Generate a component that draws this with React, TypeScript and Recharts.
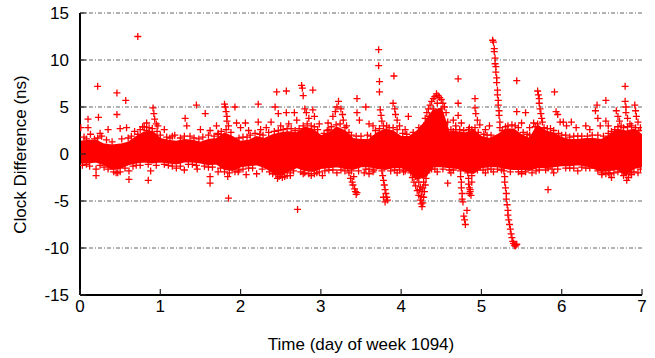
import React from 'react';
import { ComposedChart, Area, Scatter, XAxis, YAxis, CartesianGrid } from 'recharts';

// ---------------------------------------------------------------------------
// Data
// ---------------------------------------------------------------------------

const xTicks = [0, 1, 2, 3, 4, 5, 6, 7];
const yTicks = [-15, -10, -5, 0, 5, 10, 15];

// dense core of the scatter: sampled envelope every 0.1 day
const bandTimes = [
  0.0, 0.1, 0.2, 0.3, 0.4, 0.5, 0.6, 0.7, 0.8, 0.9,
  1.0, 1.1, 1.2, 1.3, 1.4, 1.5, 1.6, 1.7, 1.8, 1.9,
  2.0, 2.1, 2.2, 2.3, 2.4, 2.5, 2.6, 2.7, 2.8, 2.9,
  3.0, 3.1, 3.2, 3.3, 3.4, 3.5, 3.6, 3.7, 3.8, 3.9,
  4.0, 4.1, 4.2, 4.3, 4.4, 4.5, 4.6, 4.7, 4.8, 4.9,
  5.0, 5.1, 5.2, 5.3, 5.4, 5.5, 5.6, 5.7, 5.8, 5.9,
  6.0, 6.1, 6.2, 6.3, 6.4, 6.5, 6.6, 6.7, 6.8, 6.9, 7.0,
];
const bandHigh = [
  1.3, 1.4, 1.4, 1.0, 0.9, 1.0, 1.2, 1.8, 2.3, 2.4,
  1.6, 1.4, 1.3, 1.5, 1.4, 1.2, 1.5, 1.6, 2.2, 1.8,
  1.3, 1.4, 1.8, 1.6, 2.0, 2.2, 2.3, 2.2, 2.8, 2.6,
  1.9, 2.2, 2.8, 2.4, 1.6, 1.5, 1.5, 2.2, 2.6, 2.4,
  1.8, 1.8, 2.4, 3.4, 4.6, 4.8, 2.2, 2.3, 2.2, 2.5,
  1.8, 1.6, 2.0, 2.6, 2.6, 2.0, 1.6, 3.0, 2.4, 2.2,
  1.7, 1.5, 1.5, 1.6, 1.6, 1.5, 2.0, 2.6, 2.4, 2.6, 2.0,
];
const bandLow = [
  -0.9, -0.9, -0.8, -1.1, -1.6, -1.5, -1.1, -0.9, -0.8, -0.9,
  -0.8, -0.9, -1.0, -0.8, -0.8, -0.9, -1.1, -1.0, -1.6, -1.7,
  -1.3, -1.2, -1.1, -1.4, -1.9, -2.2, -1.8, -1.4, -1.7, -1.8,
  -1.5, -1.4, -1.3, -1.5, -1.6, -1.3, -1.3, -1.5, -1.6, -1.4,
  -1.4, -1.8, -2.6, -2.4, -1.3, -1.3, -1.4, -1.5, -1.8, -2.0,
  -1.4, -1.3, -1.3, -1.5, -1.6, -1.6, -1.7, -1.4, -1.4, -1.3,
  -1.2, -1.2, -1.1, -1.2, -1.5, -1.8, -1.7, -1.6, -2.2, -1.5, -1.3,
];

// ragged crosses along the edges of the core
const upperEdge: [number, number][] = [
  [0.05, 1.8], [0.13, 2.1], [0.18, 1.6], [0.27, 1.9], [0.33, 1.5], [0.4, 1.3], [0.52, 1.6],
  [0.64, 1.9], [0.68, 2.4], [0.75, 2.6], [0.8, 2.9], [0.86, 2.8], [0.9, 2.7], [1.0, 2.0],
  [1.08, 1.8], [1.15, 1.9], [1.25, 1.7], [1.37, 1.9], [1.42, 1.7], [1.53, 1.8], [1.6, 2.0],
  [1.67, 1.9], [1.76, 2.4], [1.88, 2.3], [2.03, 1.8], [2.12, 2.0], [2.18, 2.2], [2.28, 2.0],
  [2.35, 2.3], [2.42, 2.4], [2.53, 2.6], [2.63, 2.7], [2.73, 2.7], [2.83, 3.2], [2.88, 3.0],
  [2.96, 2.6], [3.04, 2.2], [3.13, 2.9], [3.24, 3.2], [3.3, 2.8], [3.38, 2.0], [3.5, 1.9],
  [3.58, 2.0], [3.68, 2.5], [3.78, 3.0], [3.85, 2.8], [3.95, 2.6], [4.02, 2.2], [4.15, 2.3],
  [4.22, 2.8], [4.62, 2.6], [4.68, 2.6], [4.78, 2.5], [4.88, 2.6], [4.96, 2.3], [5.03, 2.1],
  [5.12, 2.0], [5.26, 2.5], [5.33, 3.0], [5.38, 3.1], [5.46, 2.8], [5.52, 2.3], [5.6, 2.0],
  [5.67, 2.9], [5.78, 2.8], [5.86, 2.7], [5.96, 2.2], [6.05, 2.0], [6.15, 1.9], [6.25, 1.9],
  [6.38, 2.0], [6.52, 1.9], [6.62, 2.4], [6.7, 2.9], [6.77, 2.8], [6.87, 3.0], [6.96, 2.5],
  [0.08, 1.6], [0.22, 1.7], [0.6, 1.7], [0.72, 2.1], [0.83, 2.5], [0.96, 2.4], [1.12, 1.7],
  [1.3, 1.9], [1.48, 1.6], [1.72, 2.1], [1.82, 2.6], [1.98, 1.7], [2.08, 1.8], [2.24, 2.1],
  [2.47, 2.5], [2.58, 2.7], [2.68, 2.5], [2.78, 3.0], [2.92, 2.9], [3.08, 2.5], [3.19, 3.1],
  [3.35, 2.3], [3.44, 1.9], [3.62, 1.9], [3.73, 2.7], [3.82, 3.0], [3.9, 2.8], [4.07, 2.1],
  [4.65, 2.4], [4.73, 2.6], [4.84, 2.6], [4.92, 2.8], [5.07, 2.0], [5.3, 2.9], [5.42, 3.0],
  [5.57, 2.1], [5.7, 3.2], [5.82, 2.7], [5.9, 2.5], [6.0, 2.0], [6.1, 1.8], [6.2, 1.9],
  [6.32, 1.9], [6.45, 2.0], [6.58, 2.2], [6.66, 2.6], [6.74, 3.0], [6.82, 2.9], [6.92, 2.8],
];
const lowerEdge: [number, number][] = [
  [0.03, -1.2], [0.12, -1.3], [0.25, -1.2], [0.35, -1.6], [0.42, -1.9], [0.5, -1.9], [0.56, -1.5],
  [0.66, -1.3], [0.75, -1.2], [0.95, -1.2], [1.05, -1.1], [1.15, -1.3], [1.25, -1.3], [1.35, -1.1],
  [1.45, -1.2], [1.55, -1.3], [1.65, -1.4], [1.75, -1.5], [1.86, -2.0], [1.93, -1.9], [2.03, -1.6],
  [2.15, -1.5], [2.27, -1.6], [2.36, -1.9], [2.44, -2.2], [2.52, -2.5], [2.58, -2.3], [2.66, -1.8],
  [2.75, -1.9], [2.85, -2.1], [2.92, -2.1], [3.05, -1.8], [3.15, -1.7], [3.25, -1.7], [3.47, -1.8],
  [3.56, -1.6], [3.66, -1.7], [3.87, -1.8], [3.98, -1.7], [4.05, -1.8], [4.38, -1.6], [4.52, -1.6],
  [4.65, -1.7], [4.95, -1.7], [5.02, -1.7], [5.12, -1.6], [5.2, -1.6], [5.36, -1.9], [5.46, -1.9],
  [5.55, -1.9], [5.63, -2.0], [5.72, -1.7], [5.8, -1.7], [5.95, -1.6], [6.05, -1.5], [6.15, -1.5],
  [6.25, -1.4], [6.35, -1.5], [6.45, -1.8], [6.55, -2.1], [6.65, -2.0], [6.75, -1.9], [6.83, -2.5],
  [6.9, -1.9], [6.98, -1.6],
  [0.08, -1.1], [0.3, -1.4], [0.47, -2.0], [0.7, -1.2], [0.85, -1.1], [1.1, -1.2], [1.4, -1.1],
  [1.6, -1.4], [1.8, -1.9], [1.98, -1.7], [2.1, -1.5], [2.4, -2.1], [2.48, -2.4], [2.62, -2.0],
  [2.8, -2.0], [2.98, -1.9], [3.1, -1.7], [3.3, -1.8], [3.6, -1.6], [3.92, -1.7], [4.42, -1.6],
  [4.6, -1.7], [5.08, -1.6], [5.25, -1.7], [5.5, -1.9], [5.68, -1.8], [5.88, -1.6], [6.1, -1.5],
  [6.3, -1.5], [6.5, -2.0], [6.6, -2.1], [6.7, -1.9], [6.87, -2.2],
];

// isolated points above the core
const upperOutliers: [number, number][] = [
  [0.01, 2.8], [0.1, 3.7], [0.1, 2.8], [0.22, 7.2], [0.23, 3.9], [0.25, 2.2], [0.35, 2.6],
  [0.46, 6.5], [0.46, 4.2], [0.5, 2.7], [0.57, 5.7], [0.58, 2.8], [0.72, 12.5], [0.78, 2.9],
  [0.83, 3.3], [0.91, 4.9], [0.92, 4.3], [0.93, 3.7], [0.95, 3.2], [0.97, 3.0], [1.05, 2.6],
  [1.18, 2.0], [1.31, 3.8], [1.33, 3.0], [1.45, 5.2], [1.5, 2.6], [1.56, 4.3], [1.62, 2.5],
  [1.7, 3.0], [1.72, 2.2], [1.8, 5.3], [1.81, 5.0], [1.82, 4.5], [1.83, 4.0], [1.83, 3.5],
  [1.85, 3.0], [1.93, 5.0], [1.95, 3.3], [2.0, 2.8], [2.06, 3.3], [2.1, 2.5], [2.22, 5.3],
  [2.22, 3.4], [2.25, 2.6], [2.32, 2.8], [2.38, 3.4], [2.43, 5.0], [2.45, 6.6], [2.47, 4.3],
  [2.5, 3.0], [2.57, 6.7], [2.57, 4.4], [2.6, 3.2], [2.67, 4.4], [2.7, 3.6], [2.76, 7.3],
  [2.77, 7.0], [2.78, 6.2], [2.8, 4.8], [2.82, 4.4], [2.85, 3.8], [2.9, 6.8], [2.9, 4.7],
  [2.92, 4.0], [2.98, 3.2], [3.09, 3.3], [3.1, 2.6], [3.15, 4.0], [3.18, 4.5], [3.2, 5.0],
  [3.22, 5.6], [3.25, 4.8], [3.27, 4.2], [3.28, 3.6], [3.32, 3.0], [3.45, 5.9], [3.45, 4.4],
  [3.48, 3.6], [3.56, 5.0], [3.6, 3.2], [3.65, 3.0], [3.72, 11.1], [3.72, 9.4], [3.73, 7.7],
  [3.73, 6.6], [3.74, 4.7], [3.75, 4.1], [3.76, 3.5], [3.91, 8.3], [3.9, 5.4], [3.92, 4.8],
  [3.93, 4.2], [3.95, 3.6], [3.98, 3.0], [4.09, 4.0], [4.05, 2.6], [4.71, 8.0], [4.71, 5.4],
  [4.71, 4.1], [4.65, 3.6], [4.68, 3.0], [4.75, 3.3], [4.85, 2.8], [4.92, 5.9], [4.92, 4.9],
  [4.93, 4.3], [4.95, 3.6], [4.98, 3.1], [5.05, 2.6], [5.1, 3.0], [5.44, 7.8], [5.44, 4.5],
  [5.5, 3.3], [5.55, 4.4], [5.6, 2.8], [5.65, 3.3], [5.7, 6.7], [5.71, 6.3], [5.72, 5.9],
  [5.72, 5.4], [5.73, 4.8], [5.74, 4.3], [5.75, 3.8], [5.76, 3.4], [5.91, 6.6], [5.93, 4.5],
  [5.95, 4.2], [5.98, 3.4], [6.02, 3.4], [6.06, 3.0], [6.12, 3.4], [6.18, 2.8], [6.3, 3.0],
  [6.35, 2.6], [6.44, 5.2], [6.42, 4.6], [6.45, 3.8], [6.48, 3.0], [6.55, 5.7], [6.55, 3.5],
  [6.58, 3.0], [6.68, 4.6], [6.7, 4.0], [6.72, 3.5], [6.79, 7.2], [6.79, 5.6], [6.8, 5.0],
  [6.8, 4.4], [6.82, 3.8], [6.85, 3.2], [6.91, 5.2], [6.92, 4.6], [6.93, 4.0], [6.95, 3.4],
  [6.98, 2.8],
];

// isolated points below the core
const lowerOutliers: [number, number][] = [
  [0.2, -2.3], [0.2, -1.6], [0.45, -2.0], [0.61, -1.8], [0.61, -2.7], [0.85, -2.8], [0.88, -1.8],
  [1.2, -1.5], [1.3, -1.7], [1.46, -1.6], [1.62, -2.4], [1.62, -3.1], [1.72, -1.9], [1.84, -2.4],
  [1.85, -4.7], [1.97, -1.9], [2.07, -2.2], [2.2, -2.1], [2.46, -2.6], [2.5, -2.2], [2.55, -2.4],
  [2.62, -2.3], [2.71, -5.9], [2.78, -2.1], [2.88, -2.3], [2.95, -2.0], [3.02, -2.3], [3.2, -2.0],
  [3.54, -2.0], [3.6, -2.1], [3.65, -1.9], [3.95, -2.0], [4.03, -1.9], [4.58, -3.1], [4.45, -1.9],
  [4.62, -2.0], [5.05, -2.0], [5.15, -1.9], [5.5, -2.1], [5.83, -3.8], [5.83, -1.5], [5.9, -2.0],
  [6.2, -1.8], [6.5, -2.2], [6.58, -2.0], [6.62, -2.5], [6.77, -2.3], [6.81, -2.8], [6.85, -2.0],
  [6.95, -2.0],
];

// excursions: dips near 3.4, 3.8, 4.25, 4.8 days
const dipPoints: [number, number][] = [
  [3.33, -1.5], [3.35, -2.0], [3.37, -2.6], [3.38, -1.8], [3.39, -3.0], [3.4, -3.3], [3.41, -2.4],
  [3.42, -3.7], [3.43, -4.0], [3.44, -4.3], [3.45, -4.1],
  [3.76, -1.8], [3.77, -2.3], [3.78, -2.8], [3.79, -3.3], [3.8, -3.8], [3.81, -4.2], [3.82, -4.6],
  [3.83, -4.9], [3.78, -4.6], [3.8, -5.1],
  [4.12, -2.0], [4.14, -2.5], [4.16, -3.0], [4.18, -3.4], [4.2, -3.9], [4.22, -4.4], [4.24, -4.9],
  [4.25, -5.3], [4.26, -5.6], [4.27, -5.2], [4.28, -4.6], [4.29, -4.0], [4.3, -3.3], [4.31, -2.6],
  [4.32, -2.0], [4.2, -2.5], [4.22, -3.0], [4.24, -3.5], [4.26, -4.0], [4.28, -3.0], [4.18, -2.4],
  [4.25, -4.5], [4.23, -3.8], [4.27, -3.6],
  [4.74, -1.8], [4.74, -2.4], [4.75, -3.0], [4.75, -3.6], [4.76, -4.2], [4.76, -4.8], [4.77, -5.1],
  [4.78, -6.6], [4.79, -7.0], [4.8, -7.5], [4.82, -6.0], [4.83, -2.0], [4.84, -2.6], [4.84, -3.2],
  [4.85, -3.6], [4.86, -4.0], [4.87, -4.4], [4.86, -3.8], [4.85, -4.2], [4.88, -3.0], [4.88, -2.3],
];

// hump above the core near 4.45 days
const humpPoints: [number, number][] = [
  [4.28, 3.0], [4.3, 3.8], [4.32, 4.4], [4.34, 4.8], [4.36, 5.2], [4.38, 5.6], [4.4, 5.9],
  [4.42, 6.1], [4.44, 6.4], [4.46, 6.2], [4.48, 6.0], [4.5, 5.8], [4.52, 5.4], [4.54, 5.0],
  [4.56, 4.4], [4.58, 3.4], [4.35, 4.0], [4.4, 4.8], [4.45, 5.4], [4.5, 4.8], [4.42, 4.2],
  [4.47, 3.8], [4.38, 3.4],
];

// spike up to 12 ns then the fall to -10 ns around day 5.2
const spikePoints: [number, number][] = [
  [5.14, 12.1], [5.15, 11.9], [5.16, 11.2], [5.16, 10.9], [5.17, 10.2], [5.17, 9.6], [5.18, 9.3],
  [5.18, 8.7], [5.19, 8.1], [5.19, 7.6], [5.2, 6.8], [5.2, 6.3], [5.21, 5.7], [5.21, 5.2],
  [5.22, 4.6], [5.22, 4.1], [5.23, 3.4], [5.23, 2.8],
];
const fallPoints: [number, number][] = [
  [5.27, -1.3], [5.28, -1.8], [5.29, -2.4], [5.29, -3.0], [5.3, -3.6], [5.31, -4.2], [5.31, -4.8],
  [5.32, -5.4], [5.33, -6.0], [5.33, -6.5], [5.34, -7.0], [5.35, -7.5], [5.36, -8.0], [5.37, -8.5],
  [5.38, -8.9], [5.39, -9.3], [5.4, -9.5], [5.41, -9.7], [5.42, -9.8], [5.43, -9.7], [5.44, -9.6],
];

const bandRows = bandTimes.map((x, i) => ({ x, range: [bandLow[i], bandHigh[i]] }));
const points = [
  ...upperEdge, ...lowerEdge, ...upperOutliers, ...lowerOutliers,
  ...dipPoints, ...humpPoints, ...spikePoints, ...fallPoints,
].map(([x, y]) => ({ x, y }));

const RED = '#ff0000';
const FONT = '"Liberation Sans", Arial, sans-serif';
const TICK_LEN = 6;
const TICK_COLOR = '#222';

const Cross = (props: any) => {
  const { cx, cy } = props;
  if (cx == null || cy == null) return <g />;
  return (
    <path
      d={`M${cx - 3.5},${cy}h7M${cx},${cy - 3.5}v7`}
      stroke={RED}
      strokeWidth={1.3}
      fill="none"
    />
  );
};

// gnuplot-style ticks: drawn inward from the frame, labels outside
const BottomTick = ({ x, y, payload }: any) => (
  <g>
    <line x1={x} x2={x} y1={y} y2={y - TICK_LEN} stroke={TICK_COLOR} strokeWidth={1.2} />
    <text x={x} y={y + 17} textAnchor="middle" fontSize={17} fontFamily={FONT} fill="#000">
      {payload.value}
    </text>
  </g>
);
const LeftTick = ({ x, y, payload }: any) => (
  <g>
    <line x1={x} x2={x + TICK_LEN} y1={y} y2={y} stroke={TICK_COLOR} strokeWidth={1.2} />
    <text x={x - 11} y={y + 6} textAnchor="end" fontSize={17} fontFamily={FONT} fill="#000">
      {payload.value}
    </text>
  </g>
);
const TopTick = ({ x, y }: any) => (
  <line x1={x} x2={x} y1={y} y2={y + TICK_LEN} stroke={TICK_COLOR} strokeWidth={1.2} />
);
const RightTick = ({ x, y }: any) => (
  <line x1={x} x2={x - TICK_LEN} y1={y} y2={y} stroke={TICK_COLOR} strokeWidth={1.2} />
);

const frame = { stroke: '#000', strokeWidth: 2 };

export default function App() {
  return (
    <div style={{ position: 'relative', width: 655, height: 358, background: '#fff' }}>
      <style>{'body{margin:0;}'}</style>
      <ComposedChart
        width={655}
        height={358}
        data={bandRows}
        margin={{ top: 13, right: 13, bottom: 33, left: 0 }}
      >
        <CartesianGrid vertical={false} stroke="#666" strokeDasharray="4 2 1 2" />
        <XAxis
          dataKey="x"
          type="number"
          domain={[0, 7]}
          ticks={xTicks}
          height={30}
          tickSize={0}
          tickMargin={0}
          tickLine={false}
          tick={<BottomTick />}
          axisLine={frame}
          allowDataOverflow
        />
        <XAxis
          xAxisId="top"
          orientation="top"
          type="number"
          domain={[0, 7]}
          ticks={xTicks}
          height={0}
          tickSize={0}
          tickMargin={0}
          tickLine={false}
          tick={<TopTick />}
          axisLine={frame}
        />
        <YAxis
          dataKey="y"
          type="number"
          domain={[-15, 15]}
          ticks={yTicks}
          width={80}
          tickSize={0}
          tickMargin={0}
          tickLine={false}
          tick={<LeftTick />}
          axisLine={frame}
          allowDataOverflow
        />
        <YAxis
          yAxisId="right"
          orientation="right"
          type="number"
          domain={[-15, 15]}
          ticks={yTicks}
          width={0}
          tickSize={0}
          tickMargin={0}
          tickLine={false}
          tick={<RightTick />}
          axisLine={frame}
        />
        <Area
          dataKey="range"
          type="linear"
          stroke={RED}
          strokeWidth={2}
          fill={RED}
          fillOpacity={1}
          dot={false}
          activeDot={false}
          isAnimationActive={false}
        />
        <Scatter data={points} shape={<Cross />} isAnimationActive={false} />
      </ComposedChart>
      <div
        style={{
          position: 'absolute',
          left: 20 - 150,
          top: 154 - 8.5,
          width: 300,
          height: 17,
          lineHeight: '17px',
          textAlign: 'center',
          transform: 'rotate(-90deg)',
          fontFamily: FONT,
          fontSize: 17,
          whiteSpace: 'nowrap',
        }}
      >
        Clock Difference (ns)
      </div>
      <div
        style={{
          position: 'absolute',
          left: 361 - 150,
          top: 336,
          width: 300,
          height: 17,
          lineHeight: '17px',
          textAlign: 'center',
          fontFamily: FONT,
          fontSize: 17,
          whiteSpace: 'nowrap',
        }}
      >
        Time (day of week 1094)
      </div>
    </div>
  );
}
